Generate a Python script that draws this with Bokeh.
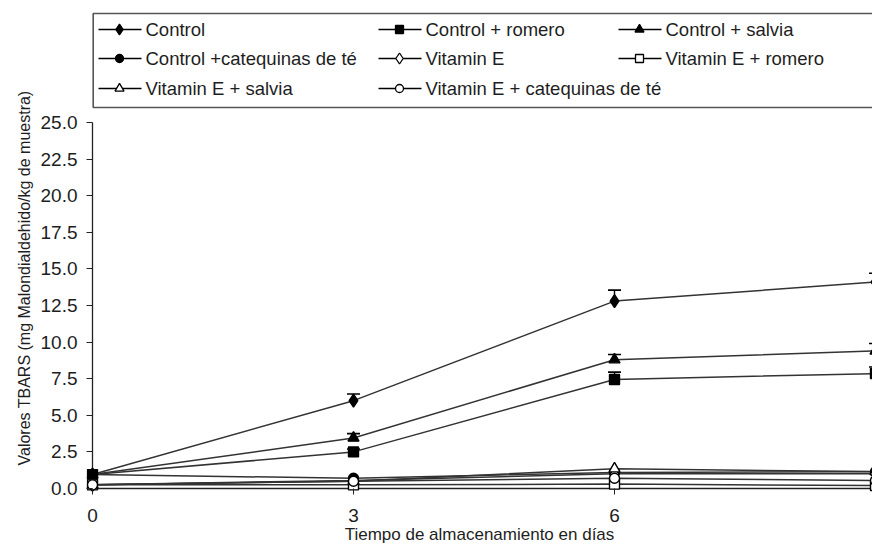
from bokeh.plotting import figure
from bokeh.models import (Range1d, FixedTicker, NumeralTickFormatter, Whisker, TeeHead,
                          ColumnDataSource, Title)
from bokeh.core.properties import value
from bokeh.embed import file_html
from bokeh.resources import INLINE

# ---------------- data ----------------
days = [0, 3, 6, 9]
control = [0.95, 6.0, 12.8, 14.1]
control_romero = [0.95, 2.5, 7.45, 7.85]
control_salvia = [0.95, 3.45, 8.8, 9.4]
control_catequinas = [0.95, 0.7, 1.1, 1.15]
vitamin_e = [0.25, 0.55, 1.0, 1.0]
vitamin_e_romero = [0.25, 0.25, 0.3, 0.2]
vitamin_e_salvia = [0.25, 0.5, 1.35, 1.15]
vitamin_e_catequinas = [0.25, 0.5, 0.7, 0.55]

err_days = [3, 6, 9]
control_upper = [6.45, 13.55, 14.7]
control_salvia_upper = [3.75, 9.15, 9.9]
control_romero_upper = [2.7, 7.95, 8.3]

series_names = ["Control", "Control + romero", "Control + salvia",
                "Control +catequinas de té", "Vitamin E", "Vitamin E + romero",
                "Vitamin E + salvia", "Vitamin E + catequinas de té"]
series_values = [control, control_romero, control_salvia, control_catequinas,
                 vitamin_e, vitamin_e_romero, vitamin_e_salvia, vitamin_e_catequinas]

y_ticks = [0, 2.5, 5, 7.5, 10, 12.5, 15, 17.5, 20, 22.5, 25]
x_ticks = [0, 3, 6, 9]

# ---------------- styles / layout ----------------
markers = ["diamond", "square", "triangle", "circle"] * 2
fills = ["black"] * 4 + ["white"] * 4
sizes = [13, 10, 11, 10, 13, 10, 11, 10]
FONT = "Liberation Sans"
LINE_COLOR = "#333333"
TEXT_COLOR = "#1e1e1e"
W, H = 872, 550
FRAME_L, FRAME_B = 86, 492        # frame left / bottom edge in canvas pixels
PX_PER_DAY, PX_PER_UNIT = 87, 14.64
AX_X0, AX_Y0 = 92, 488            # canvas pixel of day 0 / value 0

p = figure(width=W, height=H,
           x_range=Range1d(-(AX_X0 - FRAME_L) / PX_PER_DAY, (W - AX_X0) / PX_PER_DAY),
           y_range=Range1d(-(FRAME_B - AX_Y0) / PX_PER_UNIT, AX_Y0 / PX_PER_UNIT),
           output_backend="svg", toolbar_location=None,
           min_border_left=FRAME_L, min_border_right=0, min_border_top=0,
           min_border_bottom=H - FRAME_B)
p.outline_line_color = None
p.grid.visible = False

# pixel-based ranges for the legend box
p.extra_x_ranges = {"px": Range1d(FRAME_L, W)}
p.extra_y_ranges = {"px": Range1d(FRAME_B, 0)}

# ---------------- legend ----------------
p.quad(left=[92.7], right=[900], top=[13], bottom=[107], fill_color="white",
       line_color="#555555", line_width=1.6, x_range_name="px", y_range_name="px")
col_x = [98, 378, 618]
row_y = [29, 58, 88]
for i, name in enumerate(series_names):
    cx = col_x[i % 3]
    ry = row_y[i // 3]
    p.segment(x0=[cx], y0=[ry], x1=[cx + 43], y1=[ry], line_color="black", line_width=1.6,
              x_range_name="px", y_range_name="px")
    p.scatter(x=[cx + 21], y=[ry], marker=markers[i], size=sizes[i] - 2,
              fill_color=fills[i], line_color="black", line_width=1.3,
              x_range_name="px", y_range_name="px")
    p.text(x=[cx + 47], y=[ry], text=[name], text_font=value(FONT),
           text_font_size="18.5px", text_baseline="middle", text_align="left",
           text_color=TEXT_COLOR, x_range_name="px", y_range_name="px")

# ---------------- axis lines at x=0 / y=0 ----------------
p.segment(x0=[0], y0=[0], x1=[0], y1=[25], line_color="#222222", line_width=1.3)
p.segment(x0=[0], y0=[0], x1=[10], y1=[0], line_color="#222222", line_width=1.3)

# ---------------- series ----------------
for i, vals in enumerate(series_values):
    p.line(days, vals, line_color=LINE_COLOR, line_width=1.5)
for i, vals in enumerate(series_values):
    p.scatter(days, vals, marker=markers[i], size=sizes[i], fill_color=fills[i],
              line_color="black", line_width=1.4)

for upper, base_vals in [(control_upper, control), (control_salvia_upper, control_salvia),
                         (control_romero_upper, control_romero)]:
    src = ColumnDataSource(dict(x=err_days, lower=base_vals[1:], upper=upper))
    w = Whisker(base="x", lower="lower", upper="upper", source=src,
                line_color="black", line_width=1.4,
                upper_head=TeeHead(size=13, line_color="black", line_width=1.6),
                lower_head=None)
    p.add_layout(w)

# ---------------- axes ----------------
yax = p.yaxis[0]
yax.ticker = FixedTicker(ticks=y_ticks)
yax.formatter = NumeralTickFormatter(format="0.0")
yax.axis_line_color = None
yax.major_tick_in = AX_X0 - FRAME_L
yax.major_tick_out = 0
yax.minor_tick_in = 0
yax.minor_tick_out = 0
yax.major_tick_line_color = "#222222"
yax.major_label_standoff = 9
yax.major_label_text_font = FONT
yax.major_label_text_font_size = "19px"
yax.major_label_text_color = TEXT_COLOR

xax = p.xaxis[0]
xax.ticker = FixedTicker(ticks=x_ticks)
xax.axis_line_color = None
xax.major_tick_in = FRAME_B - AX_Y0
xax.major_tick_out = 2
xax.minor_tick_in = 0
xax.minor_tick_out = 0
xax.major_tick_line_color = "#222222"
xax.major_label_standoff = 14
xax.major_label_text_font = FONT
xax.major_label_text_font_size = "19px"
xax.major_label_text_color = TEXT_COLOR
xax.axis_label = "Tiempo de almacenamiento en días"
xax.axis_label_standoff = 0
xax.axis_label_text_font = FONT
xax.axis_label_text_font_size = "17px"
xax.axis_label_text_font_style = "normal"
xax.axis_label_text_color = TEXT_COLOR

ytitle = Title(text="Valores TBARS (mg Malondialdehido/kg  de muestra)", align="left",
               offset=27, text_font=FONT, text_font_size="16px", text_font_style="normal",
               text_color=TEXT_COLOR)
p.add_layout(ytitle, "left")

open("out.html", "w").write(file_html(p, INLINE))
